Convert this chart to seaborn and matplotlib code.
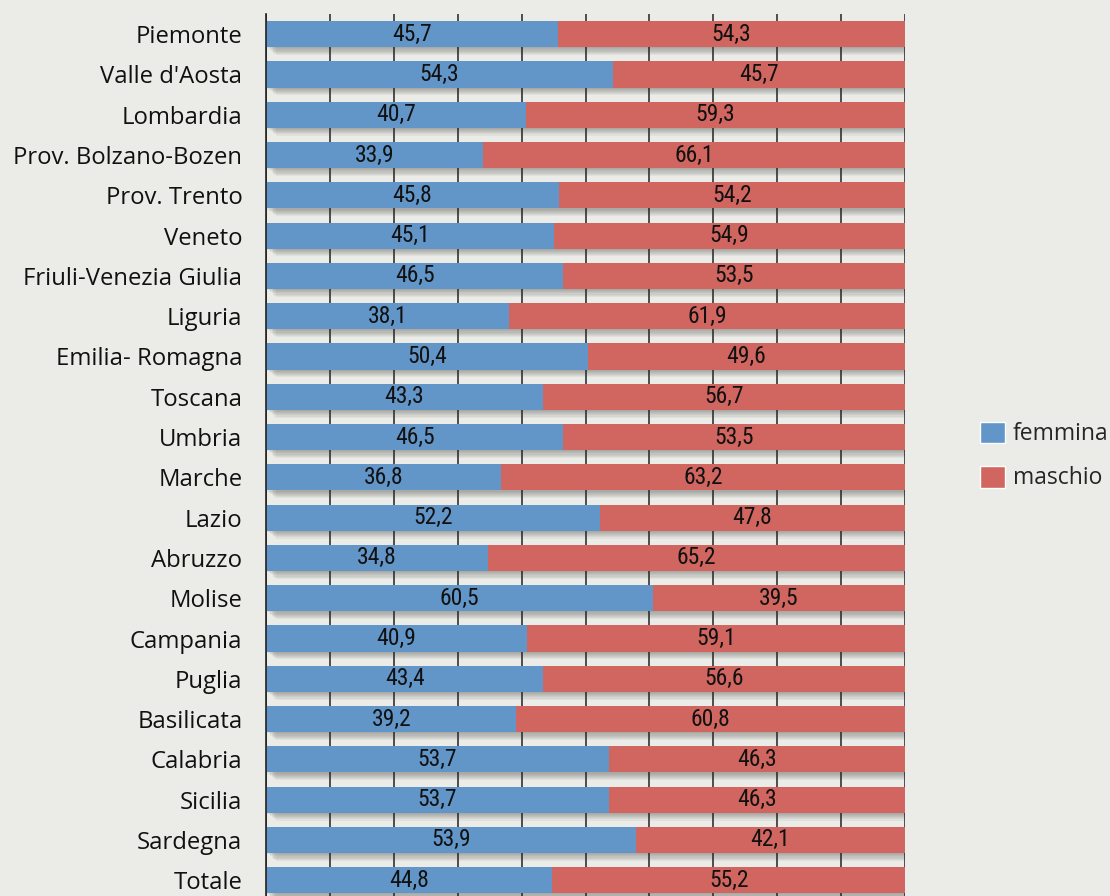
import numpy as np
import pandas as pd
import matplotlib
matplotlib.use("Agg")
import matplotlib.pyplot as plt
import matplotlib.patheffects as pe
from matplotlib.patches import Patch
from matplotlib.ticker import FixedLocator
from matplotlib import font_manager
import seaborn as sns

# --- DATA ---
regioni = [
    "Piemonte", "Valle d'Aosta", "Lombardia", "Prov. Bolzano-Bozen", "Prov. Trento",
    "Veneto", "Friuli-Venezia Giulia", "Liguria", "Emilia- Romagna", "Toscana",
    "Umbria", "Marche", "Lazio", "Abruzzo", "Molise", "Campania", "Puglia",
    "Basilicata", "Calabria", "Sicilia", "Sardegna", "Totale",
]
femmina = [45.7, 54.3, 40.7, 33.9, 45.8, 45.1, 46.5, 38.1, 50.4, 43.3, 46.5,
           36.8, 52.2, 34.8, 60.5, 40.9, 43.4, 39.2, 53.7, 53.7, 53.9, 44.8]
maschio = [54.3, 45.7, 59.3, 66.1, 54.2, 54.9, 53.5, 61.9, 49.6, 56.7, 53.5,
           63.2, 47.8, 65.2, 39.5, 59.1, 56.6, 60.8, 46.3, 46.3, 42.1, 55.2]

BLUE = "#6296c9"
RED = "#d0665f"
BG = "#ebece7"

df = pd.DataFrame({"regione": regioni, "femmina": femmina, "maschio": maschio})
df["totale"] = 100.0
# the blue segment ends where the red one starts
df["fine_femmina"] = 100.0 - df["maschio"]

sns.set_style("white")
plt.rcParams["font.family"] = ["Open Sans", "DejaVu Sans"]

# narrow font for the numbers, if one is around
names = {f.name for f in font_manager.fontManager.ttflist}
num_family = "DejaVu Sans"
for cand in ["Liberation Sans Narrow", "Roboto Condensed", "Open Sans Condensed", "Noto Sans Condensed"]:
    if cand in names:
        num_family = cand
        break

fig = plt.figure(figsize=(11.1, 8.96), dpi=100, facecolor=BG)
ax = fig.add_axes([266 / 1110, -4.4 / 896, (905 - 266) / 1110, (900.4 - 14) / 896])
ax.set_facecolor(BG)

# soft drop shadow: a few faint offset copies
shadow = [pe.SimplePatchShadow(offset=(d, -d * 0.8), shadow_rgbFace="#333333", alpha=0.06)
          for d in (1, 2, 3, 4, 5, 6, 7)] + [pe.Normal()]

sns.barplot(data=df, y="regione", x="totale", orient="h", color=RED,
            saturation=1, width=0.65, ax=ax, zorder=3)
sns.barplot(data=df, y="regione", x="fine_femmina", orient="h", color=BLUE,
            saturation=1, width=0.65, ax=ax, zorder=4)

n_red = len(df)
for i, p in enumerate(ax.patches):
    p.set_linewidth(0)
    if i < n_red:
        p.set_path_effects(shadow)

# value labels
for i, row in df.iterrows():
    kw = dict(ha="center", va="center", fontsize=17, family=num_family,
              fontstretch="condensed", color="#111111", zorder=6)
    ax.text(row["fine_femmina"] / 2, i, f"{row['femmina']:.1f}".replace(".", ","), **kw)
    ax.text((row["fine_femmina"] + 100) / 2, i, f"{row['maschio']:.1f}".replace(".", ","), **kw)

# vertical grid lines every 10%
for xv in range(0, 101, 10):
    ax.axvline(xv, color="#333333", lw=1.2, zorder=1)

ax.set_xlim(0, 100)
ax.set_ylim(len(df) - 0.5, -0.5)
ax.set_xticks([])
ax.set_xlabel("")
ax.set_ylabel("")
for s in ["top", "right", "bottom"]:
    ax.spines[s].set_visible(False)
ax.spines["left"].set_color("#222222")
ax.spines["left"].set_linewidth(1.2)
ax.spines["left"].set_zorder(7)

ax.tick_params(axis="y", which="major", length=0, pad=17, labelsize=17.2, labelcolor="#111111")
ax.yaxis.set_minor_locator(FixedLocator(np.arange(-0.5, len(df), 1.0)))
ax.tick_params(axis="y", which="minor", length=10, width=1.2, color="#222222", direction="out")

handles = [Patch(facecolor=BLUE, label="femmina"), Patch(facecolor=RED, label="maschio")]
fig.legend(handles=handles, loc="center left", bbox_to_anchor=(980 / 1110, 1 - 456 / 896),
           frameon=False, fontsize=16.5, handlelength=1.09, handleheight=1.09,
           handletextpad=0.35, labelspacing=0.85, borderpad=0, borderaxespad=0)

fig.savefig("out.png", dpi=100, facecolor=BG)
